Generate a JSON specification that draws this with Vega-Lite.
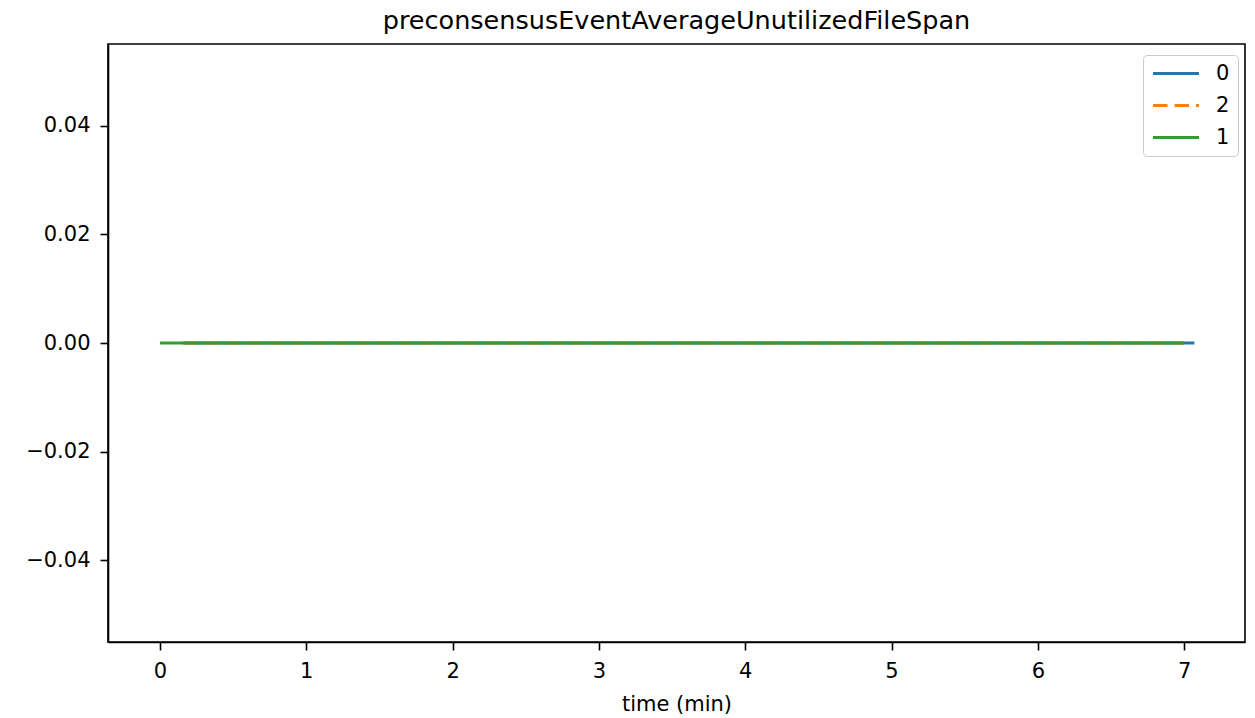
{
  "$schema": "https://vega.github.io/schema/vega-lite/v6.json",
  "autosize": {"type": "none"},
  "width": 1137,
  "height": 598,
  "padding": {"left": 108, "top": 44, "right": 10, "bottom": 76},
  "background": "white",
  "title": {"text": "preconsensusEventAverageUnutilizedFileSpan", "font": "DejaVu Sans", "fontSize": 25.5, "fontWeight": "normal", "color": "black", "offset": 10},
  "config": {
    "view": {"stroke": "black", "strokeWidth": 1.6},
    "font": "DejaVu Sans"
  },
  "data": {"values": [
    {"t": 0.16, "v": 0, "series": "0", "ord": 0},
    {"t": 3.5, "v": 0, "series": "0", "ord": 0},
    {"t": 7.07, "v": 0, "series": "0", "ord": 0},
    {"t": 0.16, "v": 0, "series": "2", "ord": 1},
    {"t": 3.5, "v": 0, "series": "2", "ord": 1},
    {"t": 7.0, "v": 0, "series": "2", "ord": 1},
    {"t": 0.0, "v": 0, "series": "1", "ord": 2},
    {"t": 3.5, "v": 0, "series": "1", "ord": 2},
    {"t": 7.0, "v": 0, "series": "1", "ord": 2}
  ]},
  "mark": {"type": "line", "strokeWidth": 3.2, "clip": true},
  "encoding": {
    "x": {"field": "t", "type": "quantitative",
      "scale": {"domain": [-0.355, 7.416], "nice": false, "zero": false},
      "axis": {"title": "time (min)", "titleFont": "DejaVu Sans", "titleFontSize": 21, "titleFontWeight": "normal", "titleColor": "black", "titlePadding": 12,
        "values": [0,1,2,3,4,5,6,7], "format": "d", "grid": false,
        "labelFontSize": 21, "labelColor": "black", "labelFont": "DejaVu Sans", "labelPadding": 10,
        "tickColor": "black", "tickSize": 8, "tickWidth": 1.6, "domainColor": "black", "domainWidth": 1.6}},
    "y": {"field": "v", "type": "quantitative",
      "scale": {"domain": [-0.0551, 0.0551], "nice": false, "zero": false},
      "axis": {"title": null, "values": [-0.04, -0.02, 0, 0.02, 0.04], "format": ".2f",
        "labelExpr": "replace(datum.label, '-', '−')", "grid": false,
        "labelFontSize": 21, "labelColor": "black", "labelFont": "DejaVu Sans", "labelPadding": 10,
        "tickColor": "black", "tickSize": 8, "tickWidth": 1.6, "domainColor": "black", "domainWidth": 1.6}},
    "color": {"field": "series", "type": "nominal",
      "scale": {"domain": ["0", "2", "1"], "range": ["#1f77b4", "#ff7f0e", "#2ca02c"]},
      "legend": {"title": null, "orient": "none", "legendX": 1035, "legendY": 11,
        "symbolType": "stroke", "symbolSize": 2116, "symbolStrokeWidth": 3.2,
        "clipHeight": 21,
        "labelFontSize": 21, "labelFont": "DejaVu Sans", "labelColor": "black", "labelOffset": 15,
        "rowPadding": 10, "padding": 8, "strokeColor": "#cccccc", "fillColor": "white", "cornerRadius": 4}},
    "strokeDash": {"field": "series", "type": "nominal",
      "scale": {"domain": ["0", "2", "1"], "range": [[1, 0], [14.5, 7], [1, 0]]},
      "legend": null},
    "order": {"field": "ord", "type": "quantitative"}
  }
}
